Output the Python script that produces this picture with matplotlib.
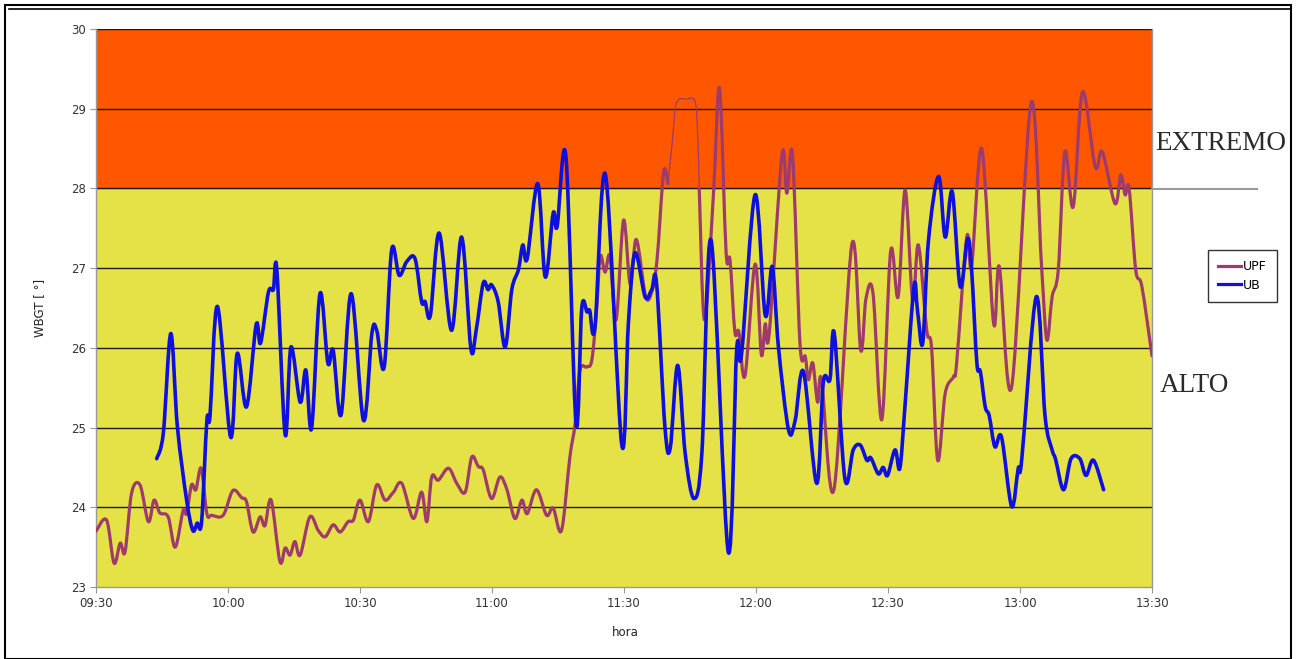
import numpy as np
import matplotlib
matplotlib.use("Agg")
import matplotlib.pyplot as plt
from matplotlib.path import Path
from matplotlib.patches import PathPatch, Rectangle
from matplotlib.lines import Line2D

# minutes after 09:30 and WBGT readings
upf_min = [0.0, 2.4, 4.1, 5.5, 6.6, 8.1, 10.0, 11.9, 13.2, 14.5, 16.4, 18.0, 19.8, 20.6,
           21.7, 22.7, 23.9, 25.2, 26.3, 28.9, 31.1, 33.1, 34.2, 35.7, 37.3, 38.4, 39.8,
           41.8, 43.0, 44.1, 45.2, 46.4, 48.6, 50.5, 52.1, 53.9, 55.5, 57.3, 58.5, 60.0,
           61.9, 63.8, 65.7, 67.6, 69.5, 72.1, 74.0, 75.2, 76.3, 77.8, 80.1, 82.0, 83.9,
           85.4, 86.9, 88.0, 89.9, 91.8, 93.4, 95.2, 96.8, 98.0, 100.1, 102.4, 103.9,
           105.8, 107.7, 108.9, 110.0, 111.5, 112.7, 113.8, 114.6, 115.7, 116.8, 118.2,
           119.9, 121.4, 122.8, 124.9, 126.3, 127.5, 129.0, 130.0]
upf_val = [23.70, 23.84, 23.30, 23.55, 23.44, 24.18, 24.28, 23.82, 24.09, 23.93, 23.88,
           23.50, 23.96, 23.92, 24.28, 24.22, 24.49, 23.92, 23.90, 23.90, 24.21, 24.12,
           24.07, 23.69, 23.88, 23.77, 24.09, 23.32, 23.49, 23.40, 23.57, 23.40, 23.88,
           23.71, 23.63, 23.78, 23.69, 23.82, 23.84, 24.09, 23.82, 24.28, 24.09, 24.19,
           24.30, 23.86, 24.19, 23.82, 24.38, 24.34, 24.49, 24.30, 24.19, 24.63, 24.51,
           24.47, 24.11, 24.38, 24.22, 23.86, 24.09, 23.92, 24.22, 23.90, 23.99, 23.71,
           24.63, 25.05, 25.72, 25.76, 25.85, 26.50, 27.15, 26.95, 27.15, 26.35, 27.60,
           26.80, 27.36, 26.65, 26.70, 27.10, 28.20, 28.06]

# stretch drawn with a thin stroke
upf_thin_min = [130.0, 131.0, 131.9, 134.2, 136.2, 136.8, 137.1]
upf_thin_val = [28.06, 28.60, 29.07, 29.12, 29.08, 28.60, 28.00]

upf2_min = [137.1, 138.3, 140.3, 141.7, 143.2, 144.1, 145.2, 146.1, 147.5, 149.8, 151.2,
            152.1, 153.0, 155.9, 157.0, 158.3, 160.0, 161.2, 161.9, 162.9, 164.0, 164.9,
            167.7, 171.8, 173.8, 175.0, 176.6, 178.6, 180.6, 182.3, 183.9, 185.6, 186.9,
            188.8, 189.9, 191.3, 193.0, 194.9, 195.6, 197.9, 199.0, 201.3, 204.0, 205.3,
            208.1, 212.5, 214.9, 216.1, 217.3, 218.7, 220.2, 222.1, 224.2, 227.1, 228.7,
            231.6, 232.9, 233.9, 234.8, 236.3, 237.7, 240.0]
upf2_val = [28.00, 26.35, 27.90, 29.26, 27.20, 27.10, 26.20, 26.20, 25.65, 27.05, 25.92,
            26.30, 26.18, 28.42, 27.94, 28.42, 26.05, 25.89, 25.60, 25.81, 25.32, 25.60,
            24.22, 27.30, 25.97, 26.62, 26.68, 25.10, 27.21, 26.64, 27.98, 26.60, 27.29,
            26.22, 26.00, 24.59, 25.43, 25.64, 25.81, 27.39, 27.02, 28.50, 26.31, 27.02,
            25.51, 29.07, 27.02, 26.10, 26.64, 26.98, 28.46, 27.77, 29.21, 28.27, 28.46,
            27.81, 28.17, 27.92, 28.00, 26.98, 26.77, 25.90]

ub_min = [13.8, 15.3, 17.0, 18.5, 20.6, 22.0, 23.0, 24.0, 25.2, 25.9, 27.6, 30.6, 32.1,
          34.2, 36.4, 37.4, 39.2, 40.3, 41.1, 43.0, 44.3, 46.4, 47.7, 49.0, 50.9, 52.7,
          53.9, 55.7, 58.0, 60.8, 62.7, 63.8, 65.5, 67.2, 68.9, 70.6, 72.5, 74.0, 74.8,
          76.0, 78.0, 80.8, 83.1, 85.2, 86.4, 88.0, 89.1, 89.9, 91.4, 93.0, 94.5, 96.0,
          97.0, 98.0, 100.4, 102.1, 103.9, 104.8, 106.8, 109.1, 110.4, 111.6, 112.2,
          113.4, 115.8, 119.5, 121.0, 122.5, 124.8, 126.3, 127.4, 129.3, 130.5, 132.2,
          133.9, 135.9, 137.7, 139.8, 143.7, 145.6, 146.7, 149.8, 152.1, 153.7, 155.1,
          157.4, 158.9, 160.8, 163.8, 165.3, 166.8, 167.8, 170.2, 172.1, 173.7, 175.2,
          176.1, 177.8, 178.9, 179.9, 181.6, 182.7, 183.9, 185.9, 186.7, 187.9, 189.2,
          191.5, 193.0, 194.6, 196.4, 198.1, 199.0, 200.2, 201.0, 202.1, 203.0, 204.3,
          205.8, 208.1, 209.6, 210.4, 213.7, 215.7, 217.3, 218.1, 219.9, 221.6, 223.6,
          225.0, 226.7, 229.0]
ub_val = [24.61, 24.93, 26.18, 25.01, 24.09, 23.71, 23.80, 23.82, 25.09, 25.14, 26.52,
          24.88, 25.93, 25.26, 26.29, 26.06, 26.70, 26.73, 26.98, 24.91, 26.01, 25.32,
          25.72, 24.99, 26.68, 25.81, 25.97, 25.16, 26.68, 25.09, 26.18, 26.22, 25.76,
          27.23, 26.91, 27.08, 27.12, 26.58, 26.58, 26.41, 27.44, 26.22, 27.39, 25.99,
          26.22, 26.81, 26.73, 26.79, 26.58, 26.01, 26.73, 26.98, 27.29, 27.12, 28.06,
          26.89, 27.69, 27.52, 28.40, 25.05, 26.50, 26.45, 26.47, 26.26, 28.17, 24.78,
          26.31, 27.19, 26.64, 26.73, 26.81, 25.01, 24.74, 25.78, 24.68, 24.11, 24.68,
          27.35, 23.44, 25.97, 25.91, 27.92, 26.41, 27.02, 26.01, 24.97, 25.09, 25.70,
          24.30, 25.57, 25.60, 26.18, 24.36, 24.72, 24.78, 24.59, 24.62, 24.42, 24.50,
          24.40, 24.72, 24.49, 25.30, 26.77, 26.47, 26.06, 27.35, 28.15, 27.39, 27.96,
          26.77, 27.37, 26.98, 25.81, 25.70, 25.26, 25.15, 24.76, 24.88, 24.01, 24.49,
          24.60, 26.64, 25.14, 24.72, 24.60, 24.22, 24.61, 24.61, 24.40, 24.59, 24.22]

tick_labels = ["09:30", "10:00", "10:30", "11:00", "11:30", "12:00", "12:30", "13:00", "13:30"]

upf_color = "#9E3A6C"
ub_color = "#0F10E0"


def smooth_path(xs, ys):
    # smoothed polyline (Catmull-Rom as cubic Bezier), like a spreadsheet "smoothed line"
    pts = np.column_stack([xs, ys])
    n = len(pts)
    verts = [pts[0]]
    codes = [Path.MOVETO]
    for i in range(n - 1):
        p0 = pts[max(i - 1, 0)]
        p1 = pts[i]
        p2 = pts[i + 1]
        p3 = pts[min(i + 2, n - 1)]
        c1 = p1 + (p2 - p0) / 6.0
        c2 = p2 - (p3 - p1) / 6.0
        verts += [c1, c2, p2]
        codes += [Path.CURVE4] * 3
    return Path(verts, codes)


fig = plt.figure(figsize=(12.96, 6.59), dpi=100)
ax = fig.add_axes([96 / 1296, 1 - 587 / 659, 1056 / 1296, 558 / 659])

ax.axhspan(23, 28, color="#E5E248", zorder=0)
ax.axhspan(28, 30, color="#FF5700", zorder=0)
for v in range(24, 31):
    ax.axhline(v, color="#1a1a1a", lw=1.0, zorder=1)

for xs, ys, col, lw in [(upf_min, upf_val, upf_color, 2.3),
                        (upf_thin_min, upf_thin_val, upf_color, 0.9),
                        (upf2_min, upf2_val, upf_color, 2.3),
                        (ub_min, ub_val, ub_color, 2.6)]:
    ax.add_patch(PathPatch(smooth_path(xs, ys), facecolor="none", edgecolor=col,
                           lw=lw, capstyle="round", joinstyle="round", zorder=3))

ax.set_xlim(0, 240)
ax.set_ylim(23, 30)
ax.set_xticks(np.arange(0, 241, 30))
ax.set_xticklabels(tick_labels)
ax.set_yticks(range(23, 31))
ax.tick_params(axis="both", labelsize=8.5, colors="#333333", length=4, width=0.8,
               direction="out", pad=3)
ax.tick_params(axis="both", color="#999999")
for s in ax.spines.values():
    s.set_color("#9a9a9a")
    s.set_linewidth(1.0)
ax.spines["top"].set_visible(False)

fig.text(40 / 1296, 1 - 308 / 659, "WBGT [ °]", rotation=90, ha="center", va="center",
         fontsize=8.5, color="#222222")
fig.text(625 / 1296, 1 - 632 / 659, "hora", ha="center", va="center",
         fontsize=8.5, color="#222222")

# zone names on the right
fig.text(1155 / 1296, 1 - 143 / 659, "EXTREMO", ha="left", va="center",
         fontsize=19.5, family="Liberation Serif", color="#2a2a2a")
fig.text(1160 / 1296, 1 - 386 / 659, "ALTO", ha="left", va="center",
         fontsize=19.5, family="Liberation Serif", color="#2a2a2a")
fig.add_artist(Line2D([1152 / 1296, 1257 / 1296], [1 - 189 / 659, 1 - 189 / 659],
                      color="#9a9a9a", lw=1.5))

handles = [Line2D([], [], color=upf_color, lw=2.3), Line2D([], [], color=ub_color, lw=2.3)]
leg = fig.legend(handles, ["UPF", "UB"], loc="upper left",
                 bbox_to_anchor=(1208 / 1296, 1 - 250 / 659), fontsize=9,
                 frameon=True, fancybox=False, handlelength=1.8, handletextpad=0.2,
                 borderpad=0.8, labelspacing=0.45, borderaxespad=0)
leg.get_frame().set_edgecolor("black")
leg.get_frame().set_linewidth(1.0)

# outer frame
fig.add_artist(Rectangle((5 / 1296, 0), 1286 / 1296, 654 / 659, transform=fig.transFigure,
                         fill=False, edgecolor="black", lw=1.5))
fig.add_artist(Line2D([9 / 1296, 1291 / 1296], [1 - 9 / 659, 1 - 9 / 659],
                      color="black", lw=1.2))

fig.savefig("out.png", dpi=100)
